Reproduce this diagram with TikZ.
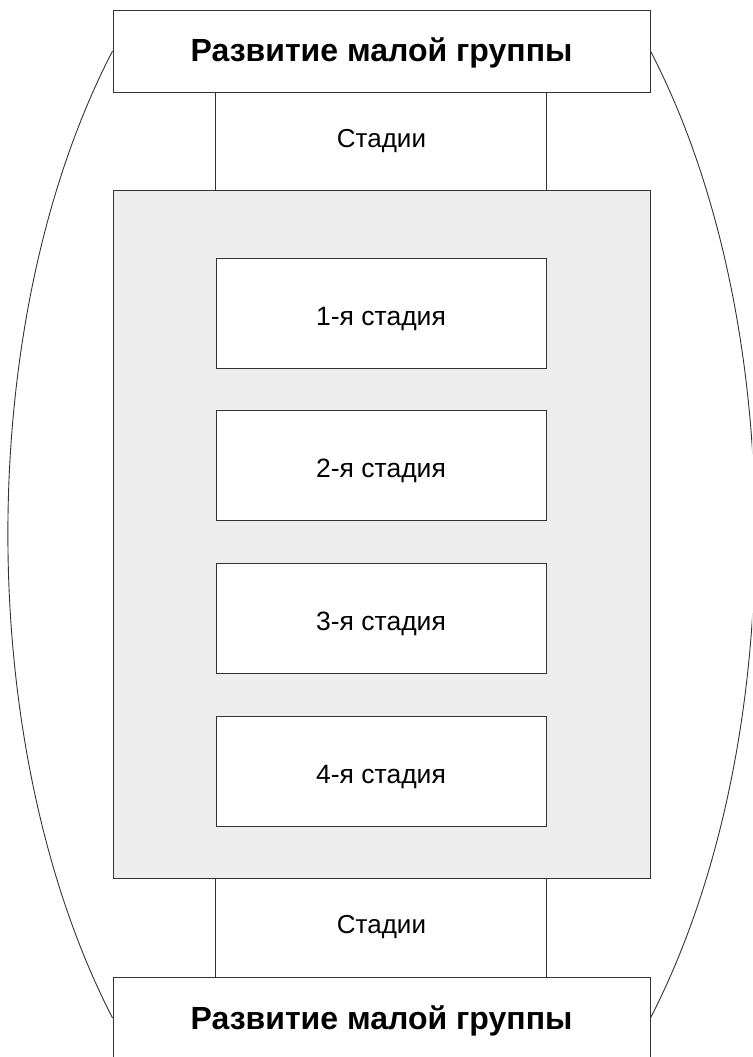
\documentclass[tikz,border=0pt]{standalone}
\usepackage{fontspec}
\setmainfont{Liberation Sans}
\usetikzlibrary{positioning}
\definecolor{panelgray}{HTML}{EDEDED}
\definecolor{linegray}{HTML}{333333}

\begin{document}
\begin{tikzpicture}[
    x=1pt, y=-1pt,
    line width=0.9pt,
    titlebox/.style={draw=linegray, fill=white, minimum width=537pt, minimum height=82pt, text height=22pt, text depth=0pt, font=\fontsize{32}{38}\selectfont\bfseries},
    panel/.style={draw=linegray, fill=panelgray, minimum width=537pt, minimum height=688pt},
    stagebox/.style={draw=linegray, fill=white, minimum width=330pt, minimum height=110pt, text height=24pt, text depth=0pt, font=\fontsize{26.5}{32}\selectfont},
    midtext/.style={font=\fontsize{26}{31}\selectfont}
]
    \useasboundingbox (0,0) rectangle (752,1057);
    \clip (0,0) rectangle (752,1057);

    % Top block
    \node[titlebox] (top) at (381.5,51) {Развитие малой группы};
    \node[midtext] (stadii1) at (381.5,141) {Стадии};

    % Stages
    \node[panel] (panel) at (381.5,534) {};
    \node[stagebox] (s1) at (381,313) {1-я стадия};
    \foreach \i [remember=\i as \j (initially 1)] in {2,3,4}
        \node[stagebox, below=42pt of s\j] (s\i) {\i-я стадия};

    % Bottom block
    \node[midtext] (stadii2) at (381.5,927) {Стадии};
    \node[titlebox] (bottom) at (381.5,1018) {Развитие малой группы};

    \draw[linegray] (top.south -| s1.west) -- (panel.north -| s1.west);
    \draw[linegray] (top.south -| s1.east) -- (panel.north -| s1.east);
    \draw[linegray] (panel.south -| s1.west) -- (bottom.north -| s1.west);
    \draw[linegray] (panel.south -| s1.east) -- (bottom.north -| s1.east);

    % Side arcs
    \draw[linegray] (top.west) .. controls (-27,320) and (-27,747) .. (bottom.west);
    \draw[linegray] (top.east) .. controls (790,320) and (790,747) .. (bottom.east);
\end{tikzpicture}
\end{document}
